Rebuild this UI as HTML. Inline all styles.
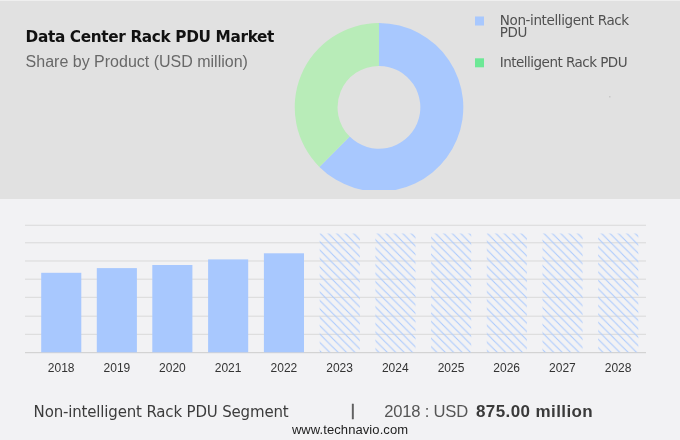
<!DOCTYPE html>
<html><head><meta charset="utf-8">
<style>
html,body{margin:0;padding:0;}
body{width:680px;height:440px;overflow:hidden;background:#f2f2f4;position:relative;font-family:"Liberation Sans",Arial,sans-serif;}
svg{position:absolute;left:0;top:0;will-change:transform;}
text{font-family:"Liberation Sans",Arial,sans-serif;}
</style></head>
<body>
<svg width="680" height="440" viewBox="0 0 680 440">
  <defs>
    <pattern id="h0" patternUnits="userSpaceOnUse" width="8.4" height="8.4" patternTransform="translate(320.00,233.5)"><path d="M-1,-1 L9.4,9.4 M-1,7.4 L1,9.4 M7.4,-1 L9.4,1" stroke="#aac9fd" stroke-width="1.05" fill="none"/></pattern>
    <pattern id="h1" patternUnits="userSpaceOnUse" width="8.4" height="8.4" patternTransform="translate(377.60,233.5)"><path d="M-1,-1 L9.4,9.4 M-1,7.4 L1,9.4 M7.4,-1 L9.4,1" stroke="#aac9fd" stroke-width="1.05" fill="none"/></pattern>
    <pattern id="h2" patternUnits="userSpaceOnUse" width="8.4" height="8.4" patternTransform="translate(435.55,233.5)"><path d="M-1,-1 L9.4,9.4 M-1,7.4 L1,9.4 M7.4,-1 L9.4,1" stroke="#aac9fd" stroke-width="1.05" fill="none"/></pattern>
    <pattern id="h3" patternUnits="userSpaceOnUse" width="8.4" height="8.4" patternTransform="translate(487.50,233.5)"><path d="M-1,-1 L9.4,9.4 M-1,7.4 L1,9.4 M7.4,-1 L9.4,1" stroke="#aac9fd" stroke-width="1.05" fill="none"/></pattern>
    <pattern id="h4" patternUnits="userSpaceOnUse" width="8.4" height="8.4" patternTransform="translate(544.00,233.5)"><path d="M-1,-1 L9.4,9.4 M-1,7.4 L1,9.4 M7.4,-1 L9.4,1" stroke="#aac9fd" stroke-width="1.05" fill="none"/></pattern>
    <pattern id="h5" patternUnits="userSpaceOnUse" width="8.4" height="8.4" patternTransform="translate(601.65,233.5)"><path d="M-1,-1 L9.4,9.4 M-1,7.4 L1,9.4 M7.4,-1 L9.4,1" stroke="#aac9fd" stroke-width="1.05" fill="none"/></pattern>
    <clipPath id="pieclip"><rect x="280" y="0" width="200" height="190"/></clipPath>
  </defs>
  <!-- top band -->
  <rect x="0" y="0" width="680" height="1" fill="#efefef"/>
  <rect x="0" y="1" width="680" height="198" fill="#e1e1e1"/>

  <!-- title -->
  <text x="25.6" y="41.8" font-size="15.3" font-weight="bold" fill="#111" letter-spacing="-0.35" style="font-family:'DejaVu Sans',sans-serif">Data Center Rack PDU Market</text>
  <text x="25.6" y="66.6" font-size="16" fill="#686868">Share by Product (USD million)</text>

  <!-- donut -->
  <g clip-path="url(#pieclip)">
    <path d="M379,23 A84.3,84.3 0 1 1 319.4,166.9 L349.7,136.6 A41.4,41.4 0 1 0 379,65.9 Z" fill="#a8c8fe"/>
    <path d="M319.4,166.9 A84.3,84.3 0 0 1 379,23 L379,65.9 A41.4,41.4 0 0 0 349.7,136.6 Z" fill="#b8ecb8"/>
  </g>

  <!-- legend -->
  <rect x="475" y="16.5" width="9" height="9" fill="#a8c8fe"/>
  <rect x="475" y="58.3" width="9" height="9" fill="#6de896"/>
  <text x="499.8" y="24.8" font-size="13.5" fill="#505050" letter-spacing="-0.38" style="font-family:'DejaVu Sans',sans-serif">Non-intelligent Rack</text>
  <text x="499.8" y="37.1" font-size="13.5" fill="#505050" letter-spacing="-0.38" style="font-family:'DejaVu Sans',sans-serif">PDU</text>
  <text x="499.8" y="66.7" font-size="13.5" fill="#505050" letter-spacing="-0.52" style="font-family:'DejaVu Sans',sans-serif">Intelligent Rack PDU</text>
  <rect x="609" y="96" width="1.5" height="1.5" fill="#c8c8c8"/>

  <!-- gridlines -->
  <g stroke="#d9d9d9" stroke-width="1">
    <line x1="25" y1="225.25" x2="646" y2="225.25"/>
    <line x1="25" y1="242.8" x2="646" y2="242.8"/>
    <line x1="25" y1="261" x2="646" y2="261"/>
    <line x1="25" y1="279.2" x2="646" y2="279.2"/>
    <line x1="25" y1="297.3" x2="646" y2="297.3"/>
    <line x1="25" y1="316.2" x2="646" y2="316.2"/>
    <line x1="25" y1="334.3" x2="646" y2="334.3"/>
  </g>
  <line x1="25" y1="352.7" x2="646" y2="352.7" stroke="#cccccc" stroke-width="1"/>

  <!-- bars -->
  <g fill="#a8c8fe">
    <rect x="41.2" y="272.8" width="40.1" height="79.5"/>
    <rect x="96.8" y="268.1" width="40.1" height="84.2"/>
    <rect x="152.3" y="265" width="40.1" height="87.3"/>
    <rect x="208.1" y="259.4" width="40.1" height="92.9"/>
    <rect x="263.9" y="253.3" width="40.1" height="99"/>
  </g>
  <g>
    <rect x="319.7" y="233.5" width="40.1" height="118.8" fill="url(#h0)"/>
    <rect x="375.4" y="233.5" width="40.1" height="118.8" fill="url(#h1)"/>
    <rect x="431.1" y="233.5" width="40.1" height="118.8" fill="url(#h2)"/>
    <rect x="486.8" y="233.5" width="40.1" height="118.8" fill="url(#h3)"/>
    <rect x="542.5" y="233.5" width="40.1" height="118.8" fill="url(#h4)"/>
    <rect x="598.2" y="233.5" width="40.1" height="118.8" fill="url(#h5)"/>
  </g>

  <!-- year labels -->
  <g font-size="12" fill="#333" text-anchor="middle">
    <text x="61.2" y="371.7">2018</text>
    <text x="116.9" y="371.7">2019</text>
    <text x="172.4" y="371.7">2020</text>
    <text x="228.1" y="371.7">2021</text>
    <text x="283.9" y="371.7">2022</text>
    <text x="339.6" y="371.7">2023</text>
    <text x="395.3" y="371.7">2024</text>
    <text x="451" y="371.7">2025</text>
    <text x="506.7" y="371.7">2026</text>
    <text x="562.4" y="371.7">2027</text>
    <text x="618.1" y="371.7">2028</text>
  </g>

  <!-- bottom -->
  <text x="33.6" y="416.5" font-size="15" fill="#3c3c3c" letter-spacing="-0.17" style="font-family:'DejaVu Sans',sans-serif">Non-intelligent Rack PDU Segment</text>
  <text x="350.8" y="415.7" font-size="15.6" fill="#555" stroke="#555" stroke-width="0.55">|</text>
  <text x="384.2" y="416.6" font-size="16.6" fill="#555" letter-spacing="-0.2">2018 : USD</text>
  <text x="476" y="416.6" font-size="17" font-weight="bold" fill="#3a3a3a" letter-spacing="0.4">875.00 million</text>
  <text x="291.9" y="434.4" font-size="13" fill="#222" letter-spacing="0.08">www.technavio.com</text>
</svg>
</body></html>
